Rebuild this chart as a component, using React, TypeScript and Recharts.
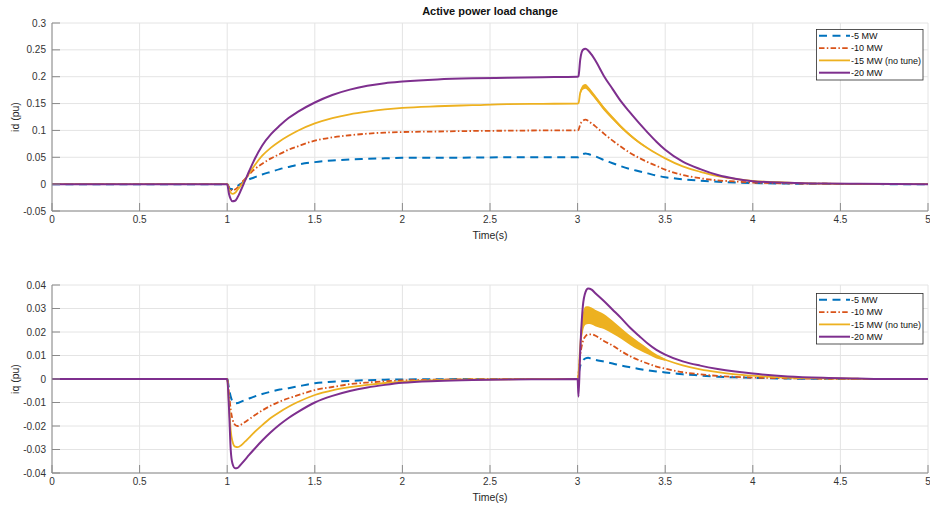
import React from "react";
import { ComposedChart, Line, Area, XAxis, YAxis, CartesianGrid } from "recharts";

// time samples (s), denser around the two load steps
const time = [
  0, 1.0, 1.01, 1.02, 1.03, 1.045, 1.06, 1.08, 1.1, 1.125, 1.15,
  1.2, 1.25, 1.3, 1.35, 1.4, 1.5, 1.6, 1.7, 1.8, 1.9, 2.0, 2.2, 2.4, 2.6, 2.8,
  3.0, 3.005, 3.015, 3.03, 3.045, 3.06, 3.08, 3.1, 3.15, 3.2, 3.25, 3.3, 3.35, 3.4, 3.45, 3.5,
  3.6, 3.7, 3.8, 3.9, 4.0, 4.2, 4.4, 4.6, 4.8, 5.0,
];

// id (pu)
const id5 = [
  0, 0, -0.006, -0.009, -0.009, -0.006, -0.003, 0.001, 0.005, 0.009, 0.012,
  0.018, 0.023, 0.028, 0.032, 0.036, 0.041, 0.044, 0.046, 0.047, 0.048, 0.049, 0.049, 0.0495, 0.05, 0.05,
  0.05, 0.05, 0.053, 0.056, 0.057, 0.056, 0.054, 0.052, 0.045, 0.039, 0.033, 0.028, 0.024, 0.02, 0.016, 0.013,
  0.009, 0.0065, 0.0045, 0.003, 0.002, 0.001, 0.0005, 0.0002, 0, 0,
];
const id10 = [
  0, 0, -0.006, -0.01, -0.012, -0.01, -0.006, 0.002, 0.009, 0.018, 0.026,
  0.038, 0.048, 0.056, 0.064, 0.07, 0.081, 0.087, 0.091, 0.094, 0.096, 0.097, 0.098, 0.099, 0.0995, 0.1,
  0.1, 0.101, 0.111, 0.118, 0.12, 0.118, 0.113, 0.108, 0.094, 0.081, 0.069, 0.058, 0.049, 0.041, 0.034, 0.027,
  0.017, 0.011, 0.007, 0.005, 0.003, 0.0015, 0.0008, 0.0003, 0, 0,
];
const id15 = [
  0, 0, -0.01, -0.016, -0.018, -0.016, -0.01, -0.002, 0.007, 0.02, 0.032,
  0.053, 0.068, 0.08, 0.09, 0.099, 0.113, 0.123, 0.13, 0.135, 0.139, 0.142, 0.145, 0.147, 0.149, 0.1495,
  0.15, 0.151, 0.17, 0.18, 0.182, 0.178, 0.17, 0.162, 0.141, 0.123, 0.106, 0.091, 0.078, 0.067, 0.057, 0.048,
  0.033, 0.023, 0.015, 0.01, 0.006, 0.003, 0.001, 0.0005, 0, 0,
];
const id20 = [
  0, 0, -0.018, -0.028, -0.032, -0.031, -0.024, -0.01, 0.005, 0.024, 0.042,
  0.072, 0.093, 0.109, 0.123, 0.134, 0.152, 0.166, 0.176, 0.183, 0.188, 0.191, 0.195, 0.197, 0.198, 0.199,
  0.2, 0.201, 0.232, 0.25, 0.252, 0.249, 0.241, 0.231, 0.2015, 0.177, 0.153, 0.133, 0.114, 0.096, 0.079, 0.064,
  0.042, 0.028, 0.017, 0.01, 0.0055, 0.0025, 0.001, 0.0005, 0.0002, 0,
];
// thickness of the oscillation band of the untuned case
const idBand15 = [
  0, 0, 0, 0, 0, 0, 0, 0, 0, 0, 0,
  0, 0, 0, 0, 0, 0, 0, 0, 0, 0, 0, 0, 0, 0, 0,
  0, 0, 0.009, 0.009, 0.0088, 0.0086, 0.0083, 0.008, 0.0074, 0.0066, 0.0056, 0.0046, 0.0036, 0.0026, 0.0014, 0,
  0, 0, 0, 0, 0, 0, 0, 0, 0, 0,
];

// iq (pu)
const iq5 = [
  0, 0, -0.004, -0.0075, -0.0095, -0.0103, -0.0102, -0.0096, -0.009, -0.0083, -0.0076,
  -0.0064, -0.0054, -0.0045, -0.0039, -0.0032, -0.0018, -0.0012, -0.0008, -0.0005, -0.0003, -0.0002, -0.0001, 0, 0, 0,
  0, 0.002, 0.0055, 0.0078, 0.0088, 0.009, 0.0086, 0.0082, 0.0074, 0.0066, 0.0057, 0.005, 0.0043, 0.0037, 0.0032, 0.0028,
  0.002, 0.0015, 0.001, 0.0007, 0.0005, 0.0002, 0.0001, 0, 0, 0,
];
const iq10 = [
  0, 0, -0.006, -0.013, -0.017, -0.0195, -0.02, -0.0194, -0.0184, -0.0171, -0.0158,
  -0.0134, -0.0113, -0.0096, -0.0082, -0.007, -0.0047, -0.0034, -0.0022, -0.0015, -0.001, -0.0006, -0.0003, -0.0001, 0, 0,
  0, 0.002, 0.01, 0.016, 0.0182, 0.019, 0.019, 0.0185, 0.0162, 0.0142, 0.0118, 0.0097, 0.008, 0.0066, 0.0053, 0.0044,
  0.0029, 0.002, 0.0013, 0.0009, 0.0006, 0.0003, 0.0001, 0, 0, 0,
];
const iq15 = [
  0, 0, -0.01, -0.022, -0.0265, -0.0288, -0.029, -0.0282, -0.0268, -0.0249, -0.023,
  -0.0196, -0.0165, -0.014, -0.0118, -0.0099, -0.0068, -0.0048, -0.0035, -0.0025, -0.0017, -0.0011, -0.0005, -0.0002, -0.0001, 0,
  0, 0.002, 0.014, 0.024, 0.027, 0.0272, 0.0268, 0.026, 0.0245, 0.022, 0.0193, 0.0165, 0.014, 0.0118, 0.0096, 0.0082,
  0.0058, 0.0041, 0.0029, 0.002, 0.0014, 0.0006, 0.0003, 0.0001, 0, 0,
];
const iq20 = [
  0, 0, -0.012, -0.03, -0.036, -0.038, -0.0378, -0.0362, -0.0345, -0.0323, -0.0302,
  -0.0262, -0.0226, -0.0194, -0.0166, -0.0142, -0.01, -0.0072, -0.0051, -0.0036, -0.0025, -0.0016, -0.0008, -0.0004, -0.0002, -0.0001,
  0, -0.0075, 0.012, 0.031, 0.037, 0.0385, 0.038, 0.0366, 0.0332, 0.0295, 0.0258, 0.0218, 0.0184, 0.0151, 0.0124, 0.0104,
  0.0075, 0.0057, 0.0043, 0.0032, 0.0023, 0.0011, 0.0005, 0.0002, 0, 0,
];
const iqBand15 = [
  0, 0, 0, 0, 0, 0, 0, 0, 0, 0, 0,
  0, 0, 0, 0, 0, 0, 0, 0, 0, 0, 0, 0, 0, 0, 0,
  0, 0, 0.01, 0.008, 0.0078, 0.0076, 0.0072, 0.007, 0.0064, 0.0055, 0.0045, 0.004, 0.0034, 0.0026, 0.0018, 0.0009,
  0, 0, 0, 0, 0, 0, 0, 0, 0, 0,
];

const xTicks = [0, 0.5, 1, 1.5, 2, 2.5, 3, 3.5, 4, 4.5, 5];
const idTicks = [-0.05, 0, 0.05, 0.1, 0.15, 0.2, 0.25, 0.3];
const iqTicks = [-0.04, -0.03, -0.02, -0.01, 0, 0.01, 0.02, 0.03, 0.04];

const names = ["-5 MW", "-10 MW", "-15 MW (no tune)", "-20 MW"];
const colors = ["#0072BD", "#D95319", "#EDB120", "#7E2F8E"];
const dashes = ["8 5.5", "5.5 2.3 1.5 2.3", undefined, undefined];
const widths = [2, 1.8, 1.8, 2];

const FONT = '"Liberation Sans", Arial, Helvetica, sans-serif';

type Row = { t: number; s0: number; s1: number; s2: number; s3: number; band: [number, number] | null };

const buildRows = (series: number[][], band: number[]): Row[] =>
  time.map((t, i) => ({
    t,
    s0: series[0][i],
    s1: series[1][i],
    s2: series[2][i],
    s3: series[3][i],
    band: band[i] > 0 ? [series[2][i] - band[i] / 2, series[2][i] + band[i] / 2] : null,
  }));

const idRows = buildRows([id5, id10, id15, id20], idBand15);
const iqRows = buildRows([iq5, iq10, iq15, iq20], iqBand15);

const seriesLine = (i: number) => (
  <Line
    key={"s" + i}
    dataKey={"s" + i}
    type="monotone"
    stroke={colors[i]}
    strokeWidth={widths[i]}
    strokeDasharray={dashes[i]}
    dot={false}
    activeDot={false}
    isAnimationActive={false}
  />
);

const Panel = ({ rows, yTicks, yLabel }: { rows: Row[]; yTicks: number[]; yLabel: string }) => (
  <ComposedChart
    width={930}
    height={250}
    data={rows}
    margin={{ top: 23, right: 2, bottom: 0, left: 0 }}
    style={{ fontFamily: FONT }}
  >
    <CartesianGrid stroke="#e4e4e4" />
    <XAxis
      dataKey="t"
      type="number"
      domain={[0, 5]}
      ticks={xTicks}
      interval={0}
      height={39}
      tickSize={-8}
      tickMargin={13}
      stroke="#8a8a8a"
      tick={{ fontSize: 10, fill: "#333" }}
      allowDataOverflow
      label={{ value: "Time(s)", position: "insideBottom", offset: 11, fontSize: 10.5, fill: "#262626" }}
    />
    <YAxis
      type="number"
      domain={[yTicks[0], yTicks[yTicks.length - 1]]}
      ticks={yTicks}
      interval={0}
      width={52}
      tickSize={-8}
      tickMargin={14}
      stroke="#8a8a8a"
      tick={{ fontSize: 10, fill: "#333" }}
      allowDataOverflow
      label={{
        value: yLabel,
        angle: -90,
        position: "insideLeft",
        offset: 15,
        fontSize: 10.5,
        fill: "#262626",
        style: { textAnchor: "middle" },
      }}
    />
    {seriesLine(0)}
    {seriesLine(1)}
    <Area
      dataKey="band"
      type="monotone"
      stroke="none"
      fill={colors[2]}
      fillOpacity={1}
      legendType="none"
      activeDot={false}
      isAnimationActive={false}
    />
    {seriesLine(2)}
    {seriesLine(3)}
  </ComposedChart>
);

const LegendBox = ({ top }: { top: number }) => (
  <svg
    width={108}
    height={53}
    style={{ position: "absolute", left: 816, top, fontFamily: FONT }}
  >
    <rect x={0.5} y={0.5} width={106.5} height={50.5} fill="#fff" stroke="#2b2b2b" strokeWidth={0.8} />
    {names.map((n, i) => (
      <g key={n}>
        <line
          x1={3}
          x2={34}
          y1={6.8 + i * 12.3}
          y2={6.8 + i * 12.3}
          stroke={colors[i]}
          strokeWidth={widths[i]}
          strokeDasharray={dashes[i]}
        />
        <text x={35} y={6.8 + i * 12.3} dy="0.35em" fontSize={9} fill="#111">
          {n}
        </text>
      </g>
    ))}
  </svg>
);

export default function App() {
  return (
    <div
      style={{
        position: "absolute",
        left: 0,
        top: 0,
        width: 930,
        height: 507,
        overflow: "hidden",
        background: "#fff",
        fontFamily: FONT,
      }}
    >
      <div
        style={{
          position: "absolute",
          left: 52,
          width: 876,
          top: 5,
          textAlign: "center",
          fontSize: 11,
          lineHeight: "13px",
          fontWeight: "bold",
          color: "#111",
        }}
      >
        Active power load change
      </div>
      <div style={{ position: "absolute", left: 0, top: 0 }}>
        <Panel rows={idRows} yTicks={idTicks} yLabel="id (pu)" />
      </div>
      <div style={{ position: "absolute", left: 0, top: 262 }}>
        <Panel rows={iqRows} yTicks={iqTicks} yLabel="iq (pu)" />
      </div>
      <LegendBox top={29} />
      <LegendBox top={293} />
    </div>
  );
}
